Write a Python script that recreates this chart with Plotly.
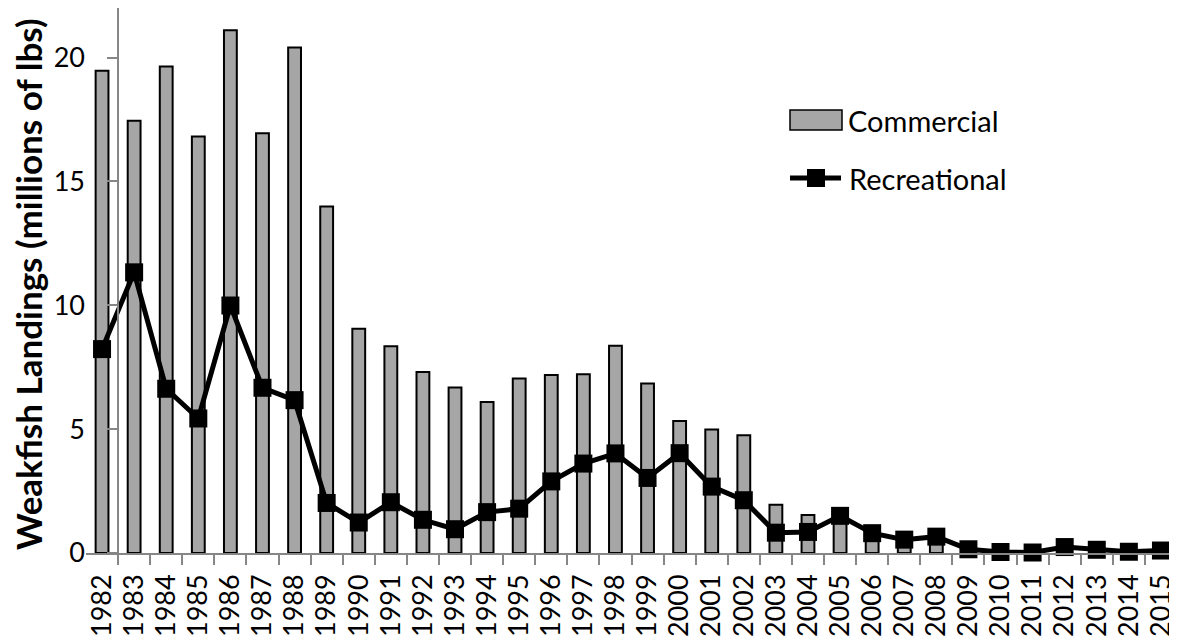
import plotly.graph_objects as go

years = list(range(1982, 2016))
year_labels = [str(y) for y in years]
commercial = [19.47, 17.45, 19.64, 16.81, 21.10, 16.94, 20.41, 13.99, 9.05, 8.35,
              7.31, 6.68, 6.10, 7.04, 7.19, 7.22, 8.37, 6.84, 5.33, 4.99,
              4.75, 1.95, 1.53, 1.35, 0.70, 0.30, 0.40, 0.10, 0.08, 0.06,
              0.15, 0.12, 0.08, 0.10]
recreational = [8.23, 11.33, 6.63, 5.43, 9.99, 6.67, 6.17, 2.02, 1.23, 2.05,
                1.34, 0.96, 1.65, 1.79, 2.89, 3.61, 4.02, 3.03, 4.03, 2.68,
                2.13, 0.82, 0.85, 1.50, 0.80, 0.54, 0.66, 0.15, 0.04, 0.02,
                0.24, 0.13, 0.05, 0.10]
y_ticks = [0, 5, 10, 15, 20]
y_max = 22

FONT = "Lato"
AX = "#868686"
BAR = "#a6a6a6"

fig = go.Figure()
fig.add_trace(go.Bar(
    x=years, y=commercial, name="Commercial", width=0.4,
    marker=dict(color=BAR, line=dict(color="black", width=2)),
    xaxis="x", yaxis="y", showlegend=False,
))
fig.add_trace(go.Scatter(
    x=years, y=recreational, name="Recreational", mode="lines+markers",
    line=dict(color="black", width=5),
    marker=dict(symbol="square", size=18, color="black"),
    xaxis="x2", yaxis="y2", showlegend=False, cliponaxis=False,
))

xr = [years[0] - 0.5, years[-1] + 0.5]
boundaries = [y + 0.5 for y in years[:-1]]

# page has an 8px body margin; figure sized so the plot lands on the reference pixels
fig.update_layout(
    width=1169, height=632,
    margin=dict(l=78, r=0, t=0, b=87),
    paper_bgcolor="white", plot_bgcolor="white",
    font=dict(family=FONT, color="black", size=27),
    xaxis=dict(range=xr, tickvals=years, ticktext=year_labels, tickangle=-90,
               showline=False, showgrid=False, zeroline=False, ticks="",
               ticklabelstandoff=15, tickfont=dict(size=27, family=FONT)),
    xaxis2=dict(range=xr, overlaying="x", anchor="y2", side="bottom",
                tickvals=boundaries, ticks="outside", ticklen=10, tickwidth=1.5,
                tickcolor=AX, showticklabels=False, showline=True,
                linecolor=AX, linewidth=1.5, showgrid=False, zeroline=False),
    yaxis=dict(range=[0, y_max], tickvals=y_ticks, showline=False, showgrid=False,
               zeroline=False, ticks="", tickfont=dict(size=27, family=FONT)),
    yaxis2=dict(range=[0, y_max], overlaying="y", anchor="free", position=1 / 34,
                side="left", tickvals=y_ticks, ticks="outside", ticklen=10,
                tickwidth=1.5, tickcolor=AX, showticklabels=False, showline=True,
                linecolor=AX, linewidth=1.5, showgrid=False, zeroline=False),
)

W, H, L, B = 1091.0, 545.0, 86.0, 553.0
def px(x):
    return (x - L) / W
def py(y):
    return (B - y) / H

shapes = [
    dict(type="rect", xref="paper", yref="paper", x0=px(790), x1=px(842),
         y0=py(130), y1=py(110), fillcolor=BAR, line=dict(color="black", width=1.5)),
    dict(type="line", xref="paper", yref="paper", x0=px(790), x1=px(841),
         y0=py(178), y1=py(178), line=dict(color="black", width=5)),
    dict(type="rect", xref="paper", yref="paper", x0=px(807), x1=px(825),
         y0=py(187), y1=py(169), fillcolor="black", line=dict(color="black", width=0)),
]
annotations = [
    dict(text="Commercial", xref="paper", yref="paper", x=px(846), y=py(120),
         xanchor="left", yanchor="middle", showarrow=False,
         font=dict(size=29, family=FONT, color="black")),
    dict(text="Recreational", xref="paper", yref="paper", x=px(847), y=py(178),
         xanchor="left", yanchor="middle", showarrow=False,
         font=dict(size=29, family=FONT, color="black")),
    dict(text="<b>Weakfish Landings (millions of lbs)</b>", xref="paper", yref="paper",
         x=px(28), y=py(284), xanchor="center", yanchor="middle", textangle=-90,
         showarrow=False, font=dict(size=35, family=FONT, color="black")),
]
fig.update_layout(shapes=shapes, annotations=annotations)

fig.write_html("out.html")
